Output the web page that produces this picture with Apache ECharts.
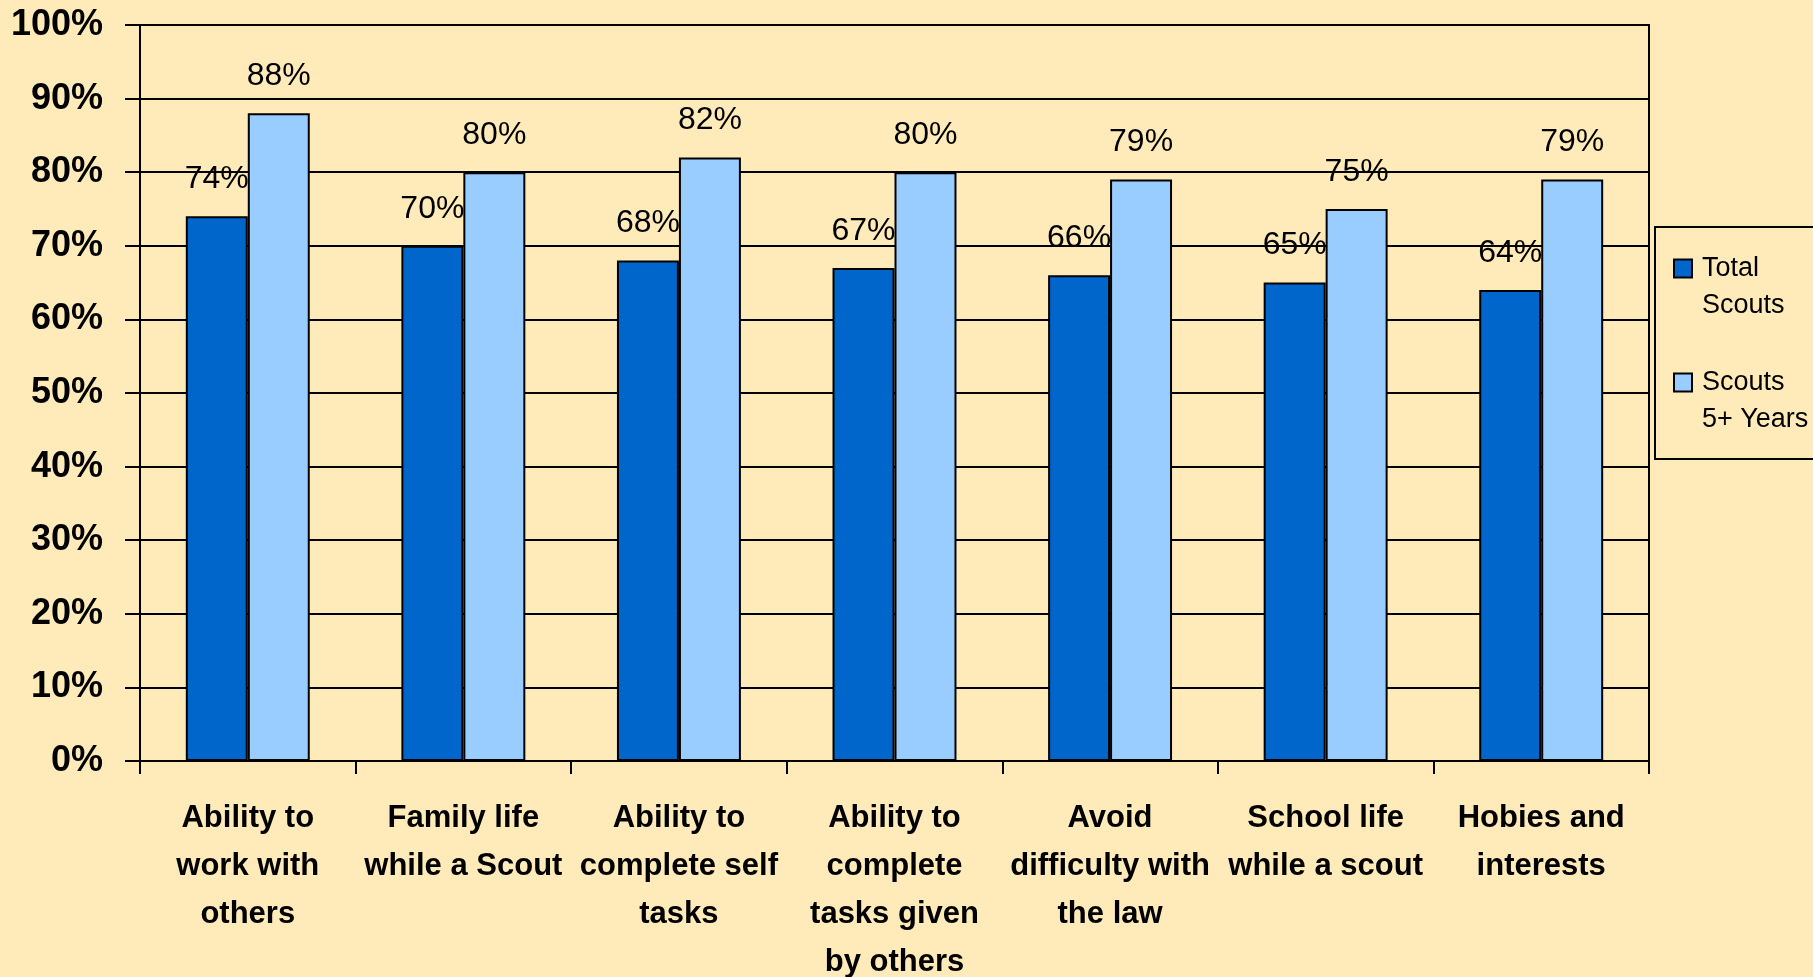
<!DOCTYPE html>
<html>
<head>
<meta charset="utf-8">
<script src="https://cdn.jsdelivr.net/npm/echarts@6/dist/echarts.min.js"></script>
<style>
html,body{margin:0;padding:0;background:#FFEBB9;}
#chart{width:1813px;height:977px;}
</style>
</head>
<body>
<div id="chart"></div>
<script>
const categories = [
  "Ability to\nwork with\nothers",
  "Family life\nwhile a Scout",
  "Ability to\ncomplete self\ntasks",
  "Ability to\ncomplete\ntasks given\nby others",
  "Avoid\ndifficulty with\nthe law",
  "School life\nwhile a scout",
  "Hobies and\ninterests"
];
const seriesNames = ["Total\nScouts", "Scouts\n5+ Years"];
const totalScouts = [74, 70, 68, 67, 66, 65, 64];
const scouts5Plus = [88, 80, 82, 80, 79, 75, 79];
const yTicks = { min: 0, max: 100, interval: 10 };

const FONT = "'Liberation Sans', Arial, sans-serif";
const chart = echarts.init(document.getElementById('chart'));

const labelStyle = {
  show: true,
  position: 'top',
  distance: 21,
  formatter: '{c}%',
  fontFamily: FONT,
  fontSize: 32,
  color: '#000'
};

chart.setOption({
  backgroundColor: '#FFEBB9',
  animation: false,
  textStyle: { fontFamily: FONT },
  grid: { left: 140, right: 164, top: 25, bottom: 216, show: true, borderColor: '#000', borderWidth: 2, backgroundColor: 'transparent', outerBoundsMode: 'none', containLabel: false },
  legend: {
    orient: 'vertical',
    left: 1673,
    top: 213,
    padding: 0,
    itemGap: 3,
    itemWidth: 18,
    itemHeight: 18,
    icon: 'rect',
    itemStyle: { borderColor: '#000', borderWidth: 2 },
    formatter: name => '\n' + name,
    textStyle: { fontFamily: FONT, fontSize: 27, lineHeight: 37, color: '#000', padding: [0, 0, 0, 5] },
    data: seriesNames
  },
  graphic: [{
    type: 'rect',
    left: 1654, top: 226,
    shape: { width: 170, height: 232 },
    style: { fill: 'transparent', stroke: '#000', lineWidth: 2 },
    z: 0
  }],
  xAxis: {
    type: 'category',
    data: categories,
    axisLine: { show: true, lineStyle: { color: '#000', width: 2 } },
    axisTick: { show: true, length: 13, lineStyle: { color: '#000', width: 2 } },
    axisLabel: {
      interval: 0,
      margin: 33,
      fontFamily: FONT,
      fontSize: 31,
      fontWeight: 'bold',
      lineHeight: 48,
      color: '#000',
      align: 'center'
    }
  },
  yAxis: {
    type: 'value',
    min: yTicks.min,
    max: yTicks.max,
    interval: yTicks.interval,
    axisLine: { show: true, lineStyle: { color: '#000', width: 2 } },
    axisTick: { show: true, length: 15, lineStyle: { color: '#000', width: 2 } },
    splitLine: { show: true, lineStyle: { color: '#000', width: 2 } },
    axisLabel: {
      formatter: '{value}%',
      margin: 37,
      fontFamily: FONT,
      fontSize: 36,
      fontWeight: 'bold',
      color: '#000'
    }
  },
  series: [
    {
      name: seriesNames[0],
      type: 'bar',
      data: totalScouts,
      barGap: '0%',
      barCategoryGap: '42.5%',
      itemStyle: { color: '#0066CC', borderColor: '#000', borderWidth: 2 },
      label: labelStyle
    },
    {
      name: seriesNames[1],
      type: 'bar',
      data: scouts5Plus,
      barGap: '0%',
      barCategoryGap: '42.5%',
      itemStyle: { color: '#99CCFF', borderColor: '#000', borderWidth: 2 },
      label: labelStyle
    }
  ]
});
</script>
</body>
</html>
